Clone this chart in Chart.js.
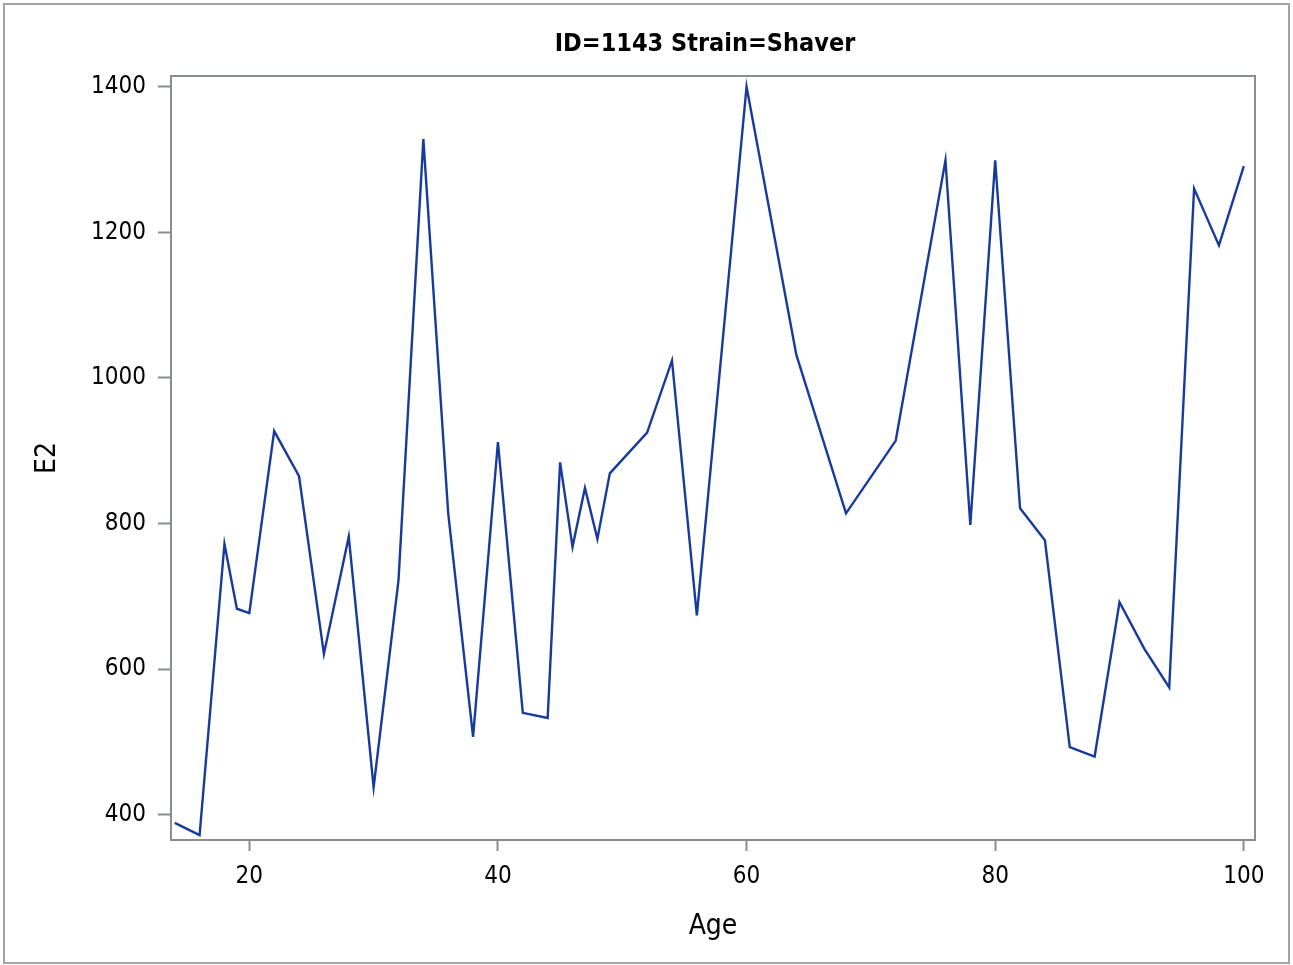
<!DOCTYPE html>
<html>
<head>
<meta charset="utf-8">
<title>ID=1143 Strain=Shaver</title>
<script src="https://cdn.jsdelivr.net/npm/chart.js@4.4.1/dist/chart.umd.min.js"></script>
<style>
  html, body { margin: 0; padding: 0; background: #fff; }
  #wrap { position: relative; width: 1293px; height: 965px; }
</style>
</head>
<body>
<div id="wrap"><canvas id="e2Chart" width="1293" height="965"></canvas></div>
<script>
const chartTitle = 'ID=1143 Strain=Shaver';
const xTitle = 'Age';
const yTitle = 'E2';

const ages = [14, 16, 18, 19, 20, 22, 24, 26, 28, 30, 32, 34, 36, 38, 40, 42, 44, 45, 46, 47, 48, 49,
              52, 54, 56, 60, 64, 68, 72, 76, 78, 80, 82, 84, 86, 88, 90, 92, 94, 96, 98, 100];
const e2Values = [389, 372, 772, 683, 677, 927, 865, 621, 782, 438, 722, 1328, 814, 507, 912, 540, 533, 884, 768, 849, 779, 869,
                  925, 1024, 674, 1400, 1032, 814, 914, 1299, 798, 1299, 821, 777, 493, 480, 692, 628, 575, 1260, 1182, 1291];

const xTicks = [20, 40, 60, 80, 100];
const yTicks = [400, 600, 800, 1000, 1200, 1400];

(function () {
    const canvas = document.getElementById('e2Chart');
    if (!canvas) return;

    const axisGray = '#8a8f8d';
    const fontFamily = '"DejaVu Sans Condensed", "DejaVu Sans", sans-serif';

    // frame top/right, outer border and the title
    const framePlugin = {
        id: 'frame',
        afterDraw(chart) {
            const { ctx, chartArea: a } = chart;
            ctx.save();
            ctx.strokeStyle = axisGray;
            ctx.lineWidth = 2;
            ctx.beginPath();
            ctx.moveTo(a.left, a.top);
            ctx.lineTo(a.right, a.top);
            ctx.lineTo(a.right, a.bottom);
            ctx.stroke();

            ctx.strokeStyle = '#a4a4a4';
            ctx.strokeRect(4, 4, chart.width - 8, chart.height - 6);

            ctx.fillStyle = '#000';
            ctx.font = 'bold 25px ' + fontFamily;
            ctx.textAlign = 'center';
            ctx.textBaseline = 'middle';
            ctx.fillText(chartTitle, 705, 44);
            ctx.restore();
        }
    };

    new Chart(canvas, {
        type: 'line',
        data: {
            datasets: [{
                label: yTitle,
                data: ages.map((a, i) => ({ x: a, y: e2Values[i] })),
                borderColor: '#173b9c',
                borderWidth: 2.4,
                pointRadius: 0,
                tension: 0,
                fill: false,
            }],
        },
        options: {
            responsive: false,
            animation: false,
            devicePixelRatio: 1,
            layout: { padding: { top: 76, right: 38, bottom: 0, left: 0 } },
            plugins: {
                legend: { display: false },
                tooltip: { enabled: false },
            },
            scales: {
                x: {
                    type: 'linear',
                    position: 'bottom',
                    min: 13.7,
                    max: 100.9,
                    afterBuildTicks: (s) => { s.ticks = xTicks.map(v => ({ value: v })); },
                    afterFit: (s) => { s.height = 125; },
                    grid: { drawOnChartArea: false, drawTicks: true, tickLength: 11, tickWidth: 2, tickColor: axisGray },
                    border: { display: true, color: axisGray, width: 2 },
                    ticks: { padding: 11, color: '#000', font: { family: fontFamily, size: 24 }, maxRotation: 0, autoSkip: false,
                             callback: (v) => String(v) },
                    title: { display: true, text: xTitle, color: '#000', font: { family: fontFamily, size: 28 }, padding: { top: 0, bottom: 21 } },
                },
                y: {
                    type: 'linear',
                    min: 365.4,
                    max: 1414.7,
                    afterBuildTicks: (s) => { s.ticks = yTicks.map(v => ({ value: v })); },
                    afterFit: (s) => { s.width = 171; },
                    grid: { drawOnChartArea: false, drawTicks: true, tickLength: 13, tickWidth: 2, tickColor: axisGray },
                    border: { display: true, color: axisGray, width: 2 },
                    ticks: { padding: 12, color: '#000', font: { family: fontFamily, size: 24 }, autoSkip: false,
                             callback: (v) => String(v) },
                    title: { display: true, text: yTitle, color: '#000', font: { family: fontFamily, size: 28 }, padding: { top: 31, bottom: 0 } },
                },
            },
        },
        plugins: [framePlugin],
    });
})();
</script>
</body>
</html>
